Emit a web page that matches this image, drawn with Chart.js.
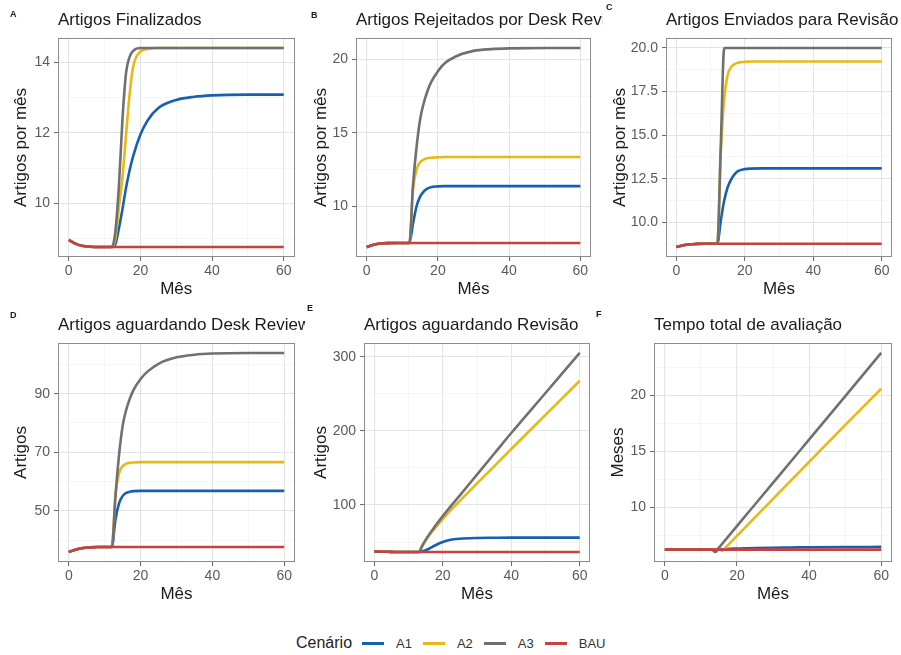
<!DOCTYPE html>
<html lang="pt">
<head>
<meta charset="utf-8">
<title>Cenários</title>
<script src="https://cdn.jsdelivr.net/npm/chart.js@4.4.1/dist/chart.umd.min.js"></script>
<style>
  body { margin: 0; background: #fff; width: 901px; height: 655px; position: relative; overflow: hidden;
         font-family: "Liberation Sans", Arial, sans-serif; }
  canvas { position: absolute; }
  .tag { position: absolute; font-weight: bold; font-size: 9px; line-height: 10px; color: #1a1a1a; }
  #legenda { position: absolute; left: 296px; top: 633px; height: 20px; display: flex; align-items: center; color: #222; }
  #legenda .tit { font-size: 16px; margin-right: 10px; }
  #legenda .linha { width: 22px; height: 3px; margin-right: 12px; }
  #legenda .rot { font-size: 13px; margin-right: 11px; color: #333; }
</style>
</head>
<body>
<canvas id="cA" width="305" height="300" style="left:0px;top:0px"></canvas>
<canvas id="cB" width="305" height="300" style="left:298px;top:0px"></canvas>
<canvas id="cC" width="308" height="300" style="left:593px;top:0px"></canvas>
<canvas id="cD" width="305" height="300" style="left:0px;top:305px"></canvas>
<canvas id="cE" width="305" height="300" style="left:298px;top:305px"></canvas>
<canvas id="cF" width="308" height="300" style="left:593px;top:305px"></canvas>

<div class="tag" style="left:10px;top:9px">A</div>
<div class="tag" style="left:311px;top:10px">B</div>
<div class="tag" style="left:606px;top:2px">C</div>
<div class="tag" style="left:10px;top:310px">D</div>
<div class="tag" style="left:307px;top:303px">E</div>
<div class="tag" style="left:596px;top:309px">F</div>

<div id="legenda"></div>

<script>
// meses simulados
const mes = [0, 2, 4, 6, 8, 10, 12, 13, 14, 15, 16, 17, 18, 20, 22, 25, 30, 35, 40, 50, 60];
const cenarios = ['A1', 'A2', 'A3', 'BAU'];
const cores = ['#1660b0', '#e8b817', '#707070', '#c9403f'];
const xTicks = [0, 20, 40, 60];

// A - Artigos Finalizados
const finalizadosA1  = [8.97, 8.86, 8.80, 8.78, 8.77, 8.77, 8.77, 8.85, 9.30, 9.85, 10.45, 10.95, 11.35, 11.95, 12.35, 12.70, 12.93, 13.02, 13.06, 13.08, 13.08];
const finalizadosA2  = [8.97, 8.86, 8.80, 8.78, 8.77, 8.77, 8.77, 9.00, 9.90, 10.75, 11.95, 13.10, 13.88, 14.30, 14.37, 14.40, 14.40, 14.40, 14.40, 14.40, 14.40];
const finalizadosA3  = [8.97, 8.86, 8.80, 8.78, 8.77, 8.77, 8.77, 9.20, 10.50, 12.40, 13.70, 14.15, 14.32, 14.40, 14.40, 14.40, 14.40, 14.40, 14.40, 14.40, 14.40];
const finalizadosBAU = [8.97, 8.86, 8.80, 8.78, 8.77, 8.77, 8.77, 8.77, 8.77, 8.77, 8.77, 8.77, 8.77, 8.77, 8.77, 8.77, 8.77, 8.77, 8.77, 8.77, 8.77];

// B - Artigos Rejeitados por Desk Review
const rejeitadosA1  = [7.22, 7.38, 7.46, 7.49, 7.50, 7.50, 7.50, 8.80, 10.00, 10.65, 11.00, 11.20, 11.30, 11.35, 11.37, 11.37, 11.37, 11.37, 11.37, 11.37, 11.37];
const rejeitadosA2  = [7.22, 7.38, 7.46, 7.49, 7.50, 7.50, 7.50, 11.10, 12.50, 13.00, 13.17, 13.26, 13.30, 13.33, 13.35, 13.35, 13.35, 13.35, 13.35, 13.35, 13.35];
const rejeitadosA3  = [7.22, 7.38, 7.46, 7.49, 7.50, 7.50, 7.50, 11.40, 14.00, 15.90, 17.00, 17.80, 18.40, 19.20, 19.75, 20.20, 20.58, 20.70, 20.75, 20.78, 20.78];
const rejeitadosBAU = [7.22, 7.38, 7.46, 7.49, 7.50, 7.50, 7.50, 7.50, 7.50, 7.50, 7.50, 7.50, 7.50, 7.50, 7.50, 7.50, 7.50, 7.50, 7.50, 7.50, 7.50];

// C - Artigos Enviados para Revisão
const enviadosA1  = [8.58, 8.68, 8.74, 8.76, 8.77, 8.77, 8.77, 10.10, 11.25, 12.00, 12.45, 12.75, 12.93, 13.05, 13.08, 13.09, 13.09, 13.09, 13.09, 13.09, 13.09];
const enviadosA2  = [8.58, 8.68, 8.74, 8.76, 8.77, 8.77, 8.77, 14.00, 17.10, 18.45, 18.90, 19.07, 19.15, 19.20, 19.22, 19.22, 19.22, 19.22, 19.22, 19.22, 19.22];
const enviadosA3  = [8.58, 8.68, 8.74, 8.76, 8.77, 8.77, 8.77, 14.40, 20.00, 20.00, 20.00, 20.00, 20.00, 20.00, 20.00, 20.00, 20.00, 20.00, 20.00, 20.00, 20.00];
const enviadosBAU = [8.58, 8.68, 8.74, 8.76, 8.77, 8.77, 8.77, 8.77, 8.77, 8.77, 8.77, 8.77, 8.77, 8.77, 8.77, 8.77, 8.77, 8.77, 8.77, 8.77, 8.77];

// D - Artigos aguardando Desk Review
const aguardDeskA1  = [35.9, 36.8, 37.3, 37.5, 37.6, 37.6, 37.6, 47.0, 52.5, 55.0, 56.1, 56.5, 56.7, 56.8, 56.8, 56.8, 56.8, 56.8, 56.8, 56.8, 56.8];
const aguardDeskA2  = [35.9, 36.8, 37.3, 37.5, 37.6, 37.6, 37.6, 55.0, 62.8, 65.2, 66.1, 66.4, 66.5, 66.6, 66.6, 66.6, 66.6, 66.6, 66.6, 66.6, 66.6];
const aguardDeskA3  = [35.9, 36.8, 37.3, 37.5, 37.6, 37.6, 37.6, 55.0, 69.0, 79.0, 84.5, 88.3, 91.2, 95.0, 97.6, 100.2, 102.4, 103.3, 103.7, 103.9, 103.9];
const aguardDeskBAU = [35.9, 36.8, 37.3, 37.5, 37.6, 37.6, 37.6, 37.6, 37.6, 37.6, 37.6, 37.6, 37.6, 37.6, 37.6, 37.6, 37.6, 37.6, 37.6, 37.6, 37.6];

// E - Artigos aguardando Revisão
const aguardRevA1  = [37.4, 37.0, 36.8, 36.6, 36.5, 36.5, 36.5, 36.5, 37.5, 39.0, 41.0, 43.5, 46.0, 50.0, 52.8, 54.5, 55.5, 55.8, 56.0, 56.0, 56.0];
const aguardRevA2  = [37.4, 37.0, 36.8, 36.6, 36.5, 36.5, 36.5, 36.5, 44.5, 52.0, 58.5, 65.0, 70.0, 81.0, 91.5, 105.5, 129.0, 152.0, 175.5, 221.5, 267.5];
const aguardRevA3  = [37.4, 37.0, 36.8, 36.6, 36.5, 36.5, 36.5, 36.5, 45.0, 53.0, 60.0, 66.5, 73.0, 85.0, 96.5, 113.0, 141.0, 169.0, 197.0, 251.0, 305.0];
const aguardRevBAU = [37.4, 37.0, 36.8, 36.6, 36.5, 36.5, 36.5, 36.5, 36.5, 36.5, 36.5, 36.5, 36.5, 36.5, 36.5, 36.5, 36.5, 36.5, 36.5, 36.5, 36.5];

// F - Tempo total de avaliação
const tempoA1  = [6.22, 6.22, 6.22, 6.22, 6.22, 6.22, 6.22, 6.22, 6.22, 6.23, 6.25, 6.27, 6.29, 6.31, 6.33, 6.36, 6.39, 6.41, 6.43, 6.45, 6.46];
const tempoA2  = [6.22, 6.22, 6.22, 6.22, 6.22, 6.22, 6.22, 6.22, 6.22, 6.22, 6.12, 6.45, 6.78, 7.44, 8.10, 9.10, 10.75, 12.40, 14.05, 17.35, 20.60];
const tempoA3  = [6.22, 6.22, 6.22, 6.22, 6.22, 6.22, 6.22, 6.22, 6.00, 6.39, 6.77, 7.16, 7.55, 8.32, 9.10, 10.25, 12.18, 14.12, 16.05, 19.92, 23.80];
const tempoBAU = [6.22, 6.22, 6.22, 6.22, 6.22, 6.22, 6.22, 6.22, 6.22, 6.22, 6.22, 6.22, 6.22, 6.22, 6.22, 6.22, 6.22, 6.22, 6.22, 6.22, 6.22];

// y tick labels de cada painel
const yTicksA = [10, 12, 14];
const yTicksB = [10, 15, 20];
const yTicksC = [10, 12.5, 15, 17.5, 20];
const yTicksD = [50, 70, 90];
const yTicksE = [100, 200, 300];
const yTicksF = [10, 15, 20];

const paineis = [
  { id: 'cA', titulo: 'Artigos Finalizados', yTitulo: 'Artigos por mês',
    series: [finalizadosA1, finalizadosA2, finalizadosA3, finalizadosBAU], yTicks: yTicksA, casas: 0,
    esq: 58, dir: 10.5, ytPad: 11.5 },
  { id: 'cB', titulo: 'Artigos Rejeitados por Desk Review', yTitulo: 'Artigos por mês',
    series: [rejeitadosA1, rejeitadosA2, rejeitadosA3, rejeitadosBAU], yTicks: yTicksB, casas: 0,
    esq: 58, dir: 12, ytPad: 13.5 },
  { id: 'cC', titulo: 'Artigos Enviados para Revisão', yTitulo: 'Artigos por mês',
    series: [enviadosA1, enviadosA2, enviadosA3, enviadosBAU], yTicks: yTicksC, casas: 1,
    esq: 73, dir: 9, ytPad: 17 },
  { id: 'cD', titulo: 'Artigos aguardando Desk Review', yTitulo: 'Artigos',
    series: [aguardDeskA1, aguardDeskA2, aguardDeskA3, aguardDeskBAU], yTicks: yTicksD, casas: 0,
    esq: 58, dir: 10, ytPad: 11.5 },
  { id: 'cE', titulo: 'Artigos aguardando Revisão', yTitulo: 'Artigos',
    series: [aguardRevA1, aguardRevA2, aguardRevA3, aguardRevBAU], yTicks: yTicksE, casas: 0,
    esq: 66, dir: 13, ytPad: 13.5 },
  { id: 'cF', titulo: 'Tempo total de avaliação', yTitulo: 'Meses',
    series: [tempoA1, tempoA2, tempoA3, tempoBAU], yTicks: yTicksF, casas: 0,
    esq: 61, dir: 9, ytPad: 15 }
];

const fonte = '"Liberation Sans", Arial, sans-serif';
Chart.defaults.font.family = fonte;
Chart.defaults.color = '#555';

// moldura do painel e título alinhado ao painel (estilo ggplot)
const moldura = {
  id: 'moldura',
  afterDraw(chart, args, opts) {
    const { ctx, chartArea: a } = chart;
    ctx.save();
    ctx.strokeStyle = '#8c8c8c';
    ctx.lineWidth = 1;
    ctx.strokeRect(Math.round(a.left) + 0.5, Math.round(a.top) + 0.5,
                   Math.round(a.right - a.left) - 1, Math.round(a.bottom - a.top) - 1);
    ctx.fillStyle = '#1a1a1a';
    ctx.font = '17px ' + fonte;
    ctx.textBaseline = 'middle';
    ctx.textAlign = 'left';
    ctx.fillText(opts.titulo, a.left, a.top - 18);
    ctx.restore();
  }
};

// menores entre as marcas principais
function comMenores(maj, min, max) {
  const passo = maj[1] - maj[0];
  const out = [];
  for (let v = maj[0] - Math.ceil((maj[0] - min) / passo) * passo; v <= max; v += passo / 2) {
    if (v >= min) out.push(+v.toFixed(4));
  }
  return out;
}

function eixoGrade(maj) {
  return {
    color: c => maj.includes(c.tick.value) ? '#e4e4e4' : '#f1f1f1',
    lineWidth: c => maj.includes(c.tick.value) ? 1.1 : 0.7,
    tickColor: c => maj.includes(c.tick.value) ? '#666' : 'rgba(0,0,0,0)',
    tickLength: 4,
    tickWidth: 1
  };
}

paineis.forEach(p => {
  const todos = p.series.flat();
  const lo = Math.min(...todos), hi = Math.max(...todos);
  const margem = (hi - lo) * 0.05;
  const yMin = lo - margem, yMax = hi + margem;
  const yLista = comMenores(p.yTicks, yMin, yMax);
  const xLista = comMenores(xTicks, -3, 63);
  const canvas = document.getElementById(p.id);

  const datasets = p.series.map((s, i) => ({
    label: cenarios[i],
    data: mes.map((m, k) => ({ x: m, y: s[k] })),
    borderColor: cores[i],
    borderWidth: 2.6,
    pointRadius: 0,
    fill: false,
    cubicInterpolationMode: 'monotone',
    order: cenarios.length - i
  }));

  new Chart(canvas.getContext('2d'), {
    type: 'line',
    data: { datasets: datasets },
    options: {
      responsive: false,
      animation: false,
      events: [],
      layout: { padding: { left: 0, right: p.dir, top: 38, bottom: 0 } },
      plugins: {
        legend: { display: false },
        tooltip: { enabled: false },
        moldura: { titulo: p.titulo }
      },
      scales: {
        x: {
          type: 'linear',
          min: -3,
          max: 63,
          afterBuildTicks: s => { s.ticks = xLista.map(v => ({ value: v })); },
          afterFit: s => { s.height = 43; },
          ticks: {
            autoSkip: false, maxRotation: 0, padding: 2,
            font: { size: 14 }, color: '#5a5a5a',
            callback: v => xTicks.includes(v) ? String(v) : ''
          },
          grid: eixoGrade(xTicks),
          border: { display: false },
          title: { display: true, text: 'Mês', color: '#1a1a1a', font: { size: 17 }, padding: { top: 0, bottom: 0 } }
        },
        y: {
          type: 'linear',
          min: yMin,
          max: yMax,
          afterBuildTicks: s => { s.ticks = yLista.map(v => ({ value: v })); },
          afterFit: s => { s.width = p.esq; },
          ticks: {
            autoSkip: false, padding: 4,
            font: { size: 14 }, color: '#5a5a5a',
            callback: v => p.yTicks.includes(v) ? v.toFixed(p.casas) : ''
          },
          grid: eixoGrade(p.yTicks),
          border: { display: false },
          title: { display: true, text: p.yTitulo, color: '#1a1a1a', font: { size: 17 }, padding: { top: p.ytPad, bottom: 0 } }
        }
      }
    },
    plugins: [moldura]
  });
});

// legenda comum
const legenda = document.getElementById('legenda');
legenda.innerHTML = '<span class="tit">Cenário</span>' +
  cenarios.map((c, i) => '<span class="linha" style="background:' + cores[i] + '"></span><span class="rot">' + c + '</span>').join('');
</script>
</body>
</html>
